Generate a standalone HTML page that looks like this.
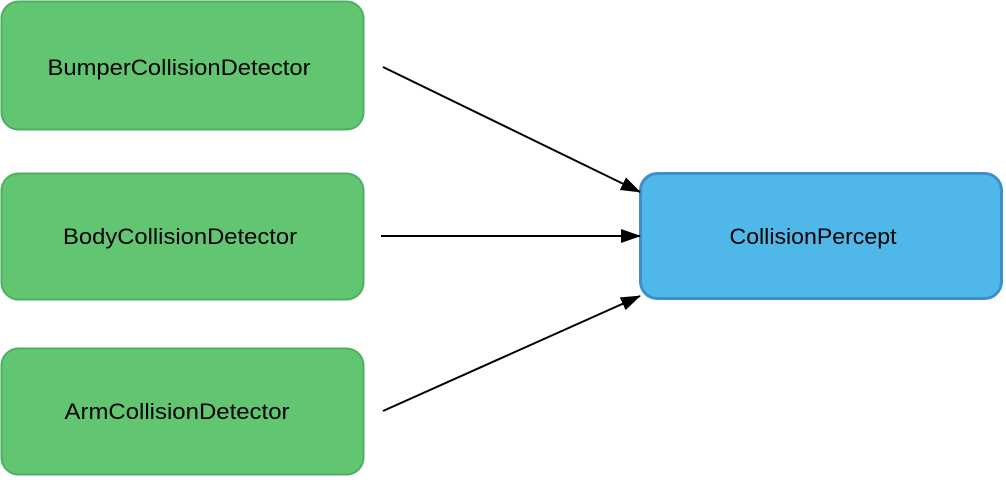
<!DOCTYPE html>
<html><head><style>body{margin:0;background:#fff}</style></head><body>
<svg width="1006" height="477" xmlns="http://www.w3.org/2000/svg" font-family="Liberation Sans, sans-serif" font-size="22">
<defs>
<marker id="b" markerWidth="20" markerHeight="14" refX="19" refY="7" orient="auto" markerUnits="userSpaceOnUse"><path d="M0,0L20,7L0,14Z" fill="#000"/></marker></defs>
<rect x="1.5" y="1.5" width="362" height="128" rx="17" fill="#62c572" stroke="#4caf62" stroke-width="2"/>
<rect x="1.5" y="173.5" width="362" height="126" rx="17" fill="#62c572" stroke="#4caf62" stroke-width="2"/>
<rect x="1.5" y="348.5" width="362" height="126" rx="17" fill="#62c572" stroke="#4caf62" stroke-width="2"/>
<rect x="640.5" y="173.5" width="361" height="125" rx="17" fill="#50b8e8" stroke="#3d8ecb" stroke-width="3"/>
<g fill="#000" text-anchor="middle">
<text x="179" y="75" textLength="263" lengthAdjust="spacingAndGlyphs">BumperCollisionDetector</text>
<text x="180" y="244" textLength="234" lengthAdjust="spacingAndGlyphs">BodyCollisionDetector</text>
<text x="177" y="419" textLength="225" lengthAdjust="spacingAndGlyphs">ArmCollisionDetector</text>
<text x="813" y="244" textLength="167" lengthAdjust="spacingAndGlyphs">CollisionPercept</text>
</g>
<g stroke="#000" stroke-width="2" fill="none">
<line x1="383" y1="67" x2="640" y2="192" marker-end="url(#b)"/>
<line x1="381" y1="236" x2="640" y2="236" marker-end="url(#b)"/>
<line x1="383" y1="411" x2="640" y2="296" marker-end="url(#b)"/>
</g>
</svg>
</body></html>
